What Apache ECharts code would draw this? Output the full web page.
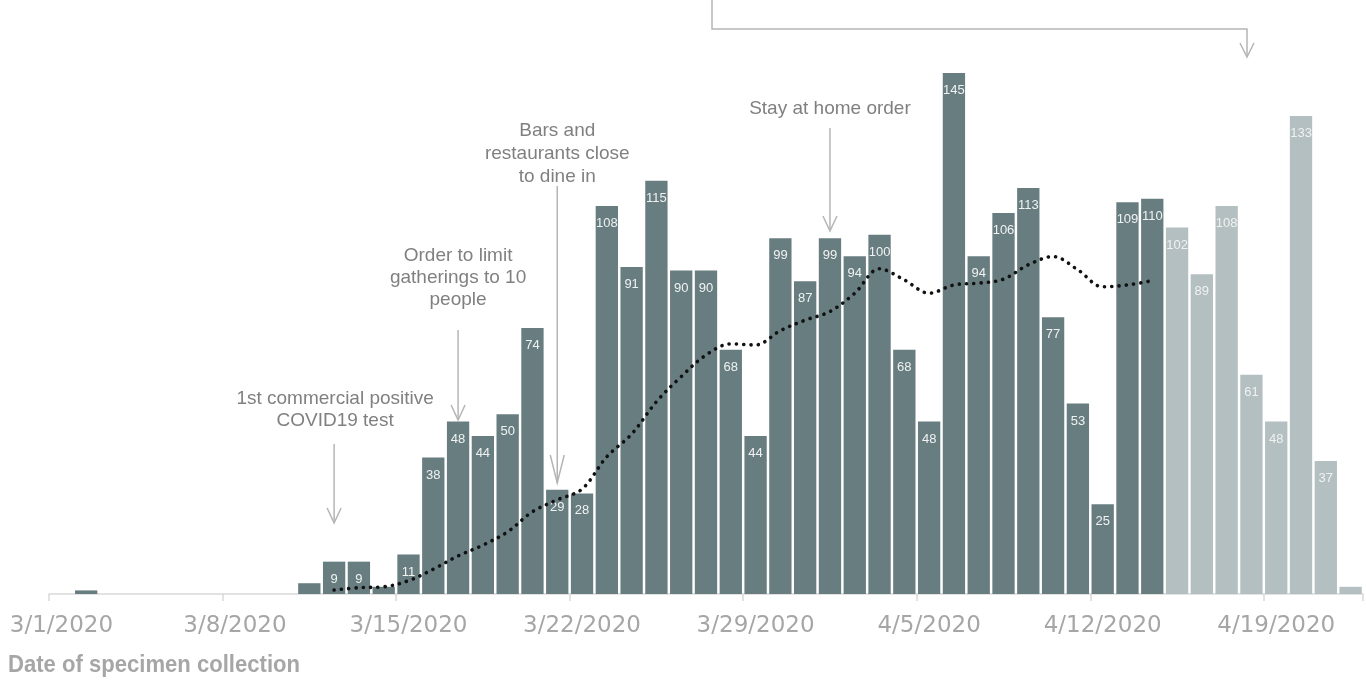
<!DOCTYPE html>
<html>
<head>
<meta charset="utf-8">
<script src="https://cdn.jsdelivr.net/npm/echarts@6/dist/echarts.min.js"></script>
<style>
html,body{margin:0;padding:0;background:#fff;}
#chart{width:1366px;height:680px;}
</style>
</head>
<body>
<div id="chart"></div>
<script>
// ---- data ----
const categories = [
  '3/1/2020','3/2/2020','3/3/2020','3/4/2020','3/5/2020','3/6/2020','3/7/2020',
  '3/8/2020','3/9/2020','3/10/2020','3/11/2020','3/12/2020','3/13/2020','3/14/2020',
  '3/15/2020','3/16/2020','3/17/2020','3/18/2020','3/19/2020','3/20/2020','3/21/2020',
  '3/22/2020','3/23/2020','3/24/2020','3/25/2020','3/26/2020','3/27/2020','3/28/2020',
  '3/29/2020','3/30/2020','3/31/2020','4/1/2020','4/2/2020','4/3/2020','4/4/2020',
  '4/5/2020','4/6/2020','4/7/2020','4/8/2020','4/9/2020','4/10/2020','4/11/2020',
  '4/12/2020','4/13/2020','4/14/2020','4/15/2020','4/16/2020','4/17/2020','4/18/2020',
  '4/19/2020','4/20/2020','4/21/2020','4/22/2020'
];
const cases = [
  0, 1, 0, 0, 0, 0, 0,
  0, 0, 0, 3, 9, 9, 2,
  11, 38, 48, 44, 50, 74, 29,
  28, 108, 91, 115, 90, 90, 68,
  44, 99, 87, 99, 94, 100, 68,
  48, 145, 94, 106, 113, 77, 53,
  25, 109, 110, 102, 89, 108, 61,
  48, 133, 37, 2
];
// index of first provisional (lighter) bar
const provisionalFrom = 45;
const movingAvg = [
  null, null, null, null, null, null, null,
  null, null, null, null, 1.1, 1.75, 2.0,
  3.7, 6.9, 10.6, 13.6, 17.3, 22.9, 26.2,
  29.2, 38.2, 44.5, 53.5, 60.5, 66.5, 69.6,
  69.3, 73.3, 76.2, 78.6, 83.7, 90.5, 87.4,
  83.7, 86, 86.5, 87.6, 91.6, 93.9, 90.2,
  85.5, 86, 87.2, null, null, null, null,
  null, null, null, null
];
const axisTitle = 'Date of specimen collection';
const notes = {
  firstTest: ['1st commercial positive', 'COVID19 test'],
  gatherings: ['Order to limit', 'gatherings to 10', 'people'],
  bars: ['Bars and', 'restaurants close', 'to dine in'],
  stayHome: ['Stay at home order']
};

// ---- chart ----
const DARK = '#687d80', LIGHT = '#b4bfc1';
const chart = echarts.init(document.getElementById('chart'), null, {renderer: 'canvas'});

const barData = cases.map((v, i) => ({
  value: v,
  itemStyle: {color: i >= provisionalFrom ? LIGHT : DARK}
}));

chart.setOption({
  animation: false,
  grid: {left: 49, right: 3, top: 19, bottom: 86, containLabel: false},
  xAxis: {
    type: 'category',
    data: categories,
    boundaryGap: true,
    axisLine: {lineStyle: {color: '#d9d9d9', width: 1.5}},
    axisTick: {show: true, interval: 6, length: 7, lineStyle: {color: '#d9d9d9', width: 1.5}},
    axisLabel: {
      interval: 6, margin: 21, color: '#a6a6a6', fontSize: 23,
      fontFamily: '"DejaVu Sans", "Liberation Sans", sans-serif'
    }
  },
  yAxis: {
    type: 'value', min: 0, max: 160, show: false,
    splitLine: {show: false}
  },
  series: [
    {
      type: 'bar',
      data: barData,
      barCategoryGap: '10%',
      label: {
        show: true,
        position: 'insideTop',
        distance: 11,
        color: '#f0f2f2',
        fontSize: 13,
        fontFamily: '"Liberation Sans", Arial, sans-serif',
        formatter: p => (p.value >= 9 ? String(p.value) : '')
      },
      z: 2
    },
    {
      type: 'line',
      data: movingAvg,
      smooth: 0.35,
      symbol: 'none',
      connectNulls: false,
      lineStyle: {color: '#111', width: 3.6, type: [0.1, 7.2], cap: 'round'},
      z: 5
    }
  ]
});

// ---- annotations ----
const TXT = '#808080', ARW = '#b5b5b5';
function arrow(x, y1, y2, hw, hh) {
  return [
    {type: 'line', shape: {x1: x, y1: y1, x2: x, y2: y2}, style: {stroke: ARW, lineWidth: 1.5}, z: 10},
    {type: 'polyline', shape: {points: [[x - hw, y2 - hh], [x, y2], [x + hw, y2 - hh]]},
     style: {stroke: ARW, lineWidth: 1.5, fill: null}, z: 10}
  ];
}
function lines(arr, cx, yFirst, lh) {
  return arr.map((t, k) => ({
    type: 'text', z: 10,
    style: {
      text: t, x: cx, y: yFirst + k * lh, align: 'center', verticalAlign: 'middle',
      fill: TXT, fontSize: 19, fontFamily: '"Liberation Sans", Arial, sans-serif'
    }
  }));
}
const xc = i => chart.convertToPixel({xAxisIndex: 0}, i);

const g = [];
// 1st commercial positive
const x1 = xc(11);
g.push(...lines(notes.firstTest, x1 + 1, 399, 22));
g.push(...arrow(x1, 444, 523, 7, 15));
// gatherings
const x2 = xc(16);
g.push(...lines(notes.gatherings, x2, 256, 22));
g.push(...arrow(x2, 330, 420, 7, 15));
// bars & restaurants
const x3 = xc(20);
g.push(...lines(notes.bars, x3, 131, 23));
g.push(...arrow(x3, 186, 483, 7, 28));
// stay at home
const x4 = xc(31);
g.push(...lines(notes.stayHome, x4, 109, 22));
g.push(...arrow(x4, 128, 231, 7, 15));
// top bracket
const bx1 = 712, bx2 = 1247, by = 29;
g.push({type: 'polyline', shape: {points: [[bx1, 0], [bx1, by], [bx2, by], [bx2, 57]]},
        style: {stroke: ARW, lineWidth: 1.5, fill: null}, z: 10});
g.push({type: 'polyline', shape: {points: [[bx2 - 7, 43], [bx2, 57], [bx2 + 7, 43]]},
        style: {stroke: ARW, lineWidth: 1.5, fill: null}, z: 10});
// axis title (condensed look via horizontal scale)
g.push({type: 'text', z: 10, x: 8, y: 665, scaleX: 0.92, style: {
  text: axisTitle, x: 0, y: 0, align: 'left', verticalAlign: 'middle',
  fill: '#a6a6a6', fontSize: 24, fontWeight: 'bold',
  fontFamily: '"Liberation Sans", Arial, sans-serif'
}});

chart.setOption({graphic: g});
</script>
</body>
</html>
